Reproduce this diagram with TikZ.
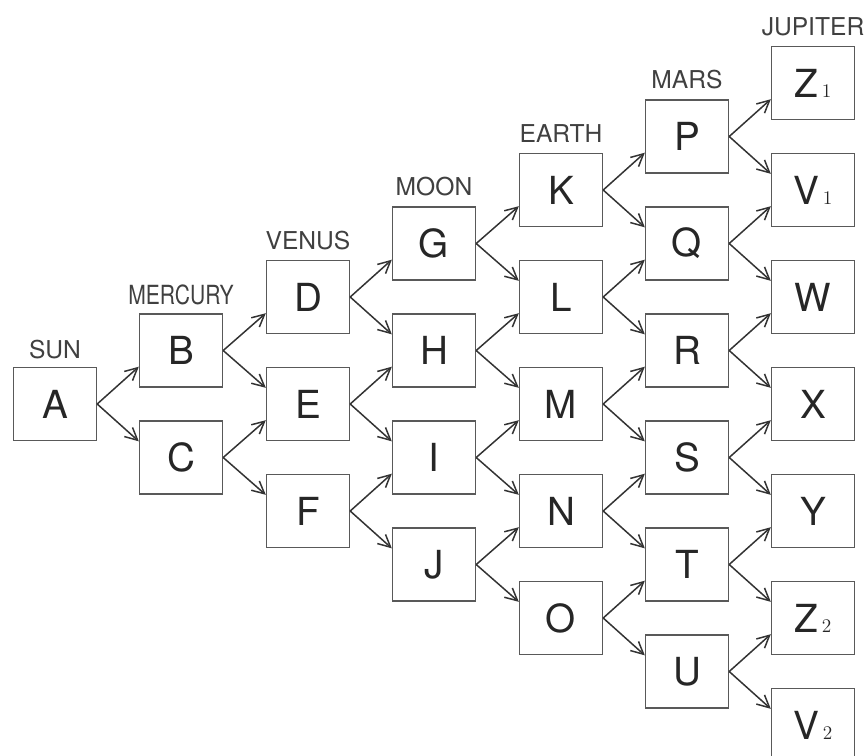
\documentclass[tikz,border=0pt]{standalone}
\usepackage{fontspec}
\setsansfont{TeX Gyre Heros}
\usepackage{graphicx}
\usepackage{tikz}
\usetikzlibrary{positioning, arrows.meta}

\begin{document}
\begin{tikzpicture}[
		x=0.02cm, y=-0.02cm,
		box/.style={draw=black!65, line width=0.8pt, rectangle, minimum width=1.66cm, minimum height=1.46cm, inner sep=0pt, text=black!85, font=\sffamily\fontsize{22}{22}\selectfont},
		planet/.style={inner sep=0pt, anchor=south, text=black!75, font=\sffamily\fontsize{14}{14}\selectfont},
		arrow/.style={-{Straight Barb[length=7pt, width=7pt]}, line width=0.85pt, draw=black!80}
		]
		\clip (0,0) rectangle (864,755);
		\fill[white] (0,0) rectangle (864,755);
		
		% Nivel 0 e 1
		\node[box] (A) at (55, 404)   {A};
		\node[box] (B) at (181, 350.5) {B};
		\node[box] (C) at (181, 457.5) {C};
		
		% Nivel 2
		\node[box] (D) at (308, 297) {D};
		\node[box] (E) at (308, 404) {E};
		\node[box] (F) at (308, 511) {F};
		
		% Nivel 3
		\node[box] (G) at (434, 243.5) {G};
		\node[box] (H) at (434, 350.5) {H};
		\node[box] (I) at (434, 457.5) {I};
		\node[box] (J) at (434, 564.5) {J};
		
		% Nivel 4
		\node[box] (K) at (561, 190) {K};
		\node[box] (L) at (561, 297) {L};
		\node[box] (M) at (561, 404) {M};
		\node[box] (N) at (561, 511) {N};
		\node[box] (O) at (561, 618) {O};
		
		% Nivel 5
		\node[box] (P) at (687, 136.5) {P};
		\node[box] (Q) at (687, 243.5) {Q};
		\node[box] (R) at (687, 350.5) {R};
		\node[box] (S) at (687, 457.5) {S};
		\node[box] (T) at (687, 564.5) {T};
		\node[box] (U) at (687, 671.5) {U};
		
		% Nivel 6
		\node[box] (Z1) at (813, 83)  {Z\hspace{2pt}{\rmfamily\fontsize{11}{11}\selectfont 1}};
		\node[box] (V1) at (813, 190) {V\hspace{2pt}{\rmfamily\fontsize{11}{11}\selectfont 1}};
		\node[box] (W)  at (813, 297) {W};
		\node[box] (X)  at (813, 404) {X};
		\node[box] (Y)  at (813, 511) {Y};
		\node[box] (Z2) at (813, 618) {Z\hspace{2pt}{\rmfamily\fontsize{11}{11}\selectfont 2}};
		\node[box] (V2) at (813, 725) {V\hspace{2pt}{\rmfamily\fontsize{11}{11}\selectfont 2}};
		
		% Nomes dos astros
		\node[planet, above=0.16cm of A.north, anchor=south] (sun) {SUN};
		\node[planet, above=0.16cm of B.north, anchor=south] (mercury) {\scalebox{0.8}[1]{\fontsize{15}{15}\selectfont MERCURY}};
		\node[planet, above=0.2cm of D.north, anchor=south] (venus) {VENUS};
		\node[planet, above=0.2cm of G.north, anchor=south] (moon) {MOON};
		\node[planet, above=0.2cm of K.north, anchor=south] (earth) {EARTH};
		\node[planet, above=0.2cm of P.north, anchor=south] (mars) {MARS};
		\node[planet, above=0.2cm of Z1.north, anchor=south] (jupiter) {JUPITER};
		
		% Setas
		\draw[arrow] (A.east) -- (B.201); \draw[arrow] (A.east) -- (C.159);
		
		\draw[arrow] (B.east) -- (D.201); \draw[arrow] (B.east) -- (E.159);
		\draw[arrow] (C.east) -- (E.201); \draw[arrow] (C.east) -- (F.159);
		
		\draw[arrow] (D.east) -- (G.201); \draw[arrow] (D.east) -- (H.159);
		\draw[arrow] (E.east) -- (H.201); \draw[arrow] (E.east) -- (I.159);
		\draw[arrow] (F.east) -- (I.201); \draw[arrow] (F.east) -- (J.159);
		
		\draw[arrow] (G.east) -- (K.201); \draw[arrow] (G.east) -- (L.159);
		\draw[arrow] (H.east) -- (L.201); \draw[arrow] (H.east) -- (M.159);
		\draw[arrow] (I.east) -- (M.201); \draw[arrow] (I.east) -- (N.159);
		\draw[arrow] (J.east) -- (N.201); \draw[arrow] (J.east) -- (O.159);
		
		\draw[arrow] (K.east) -- (P.201); \draw[arrow] (K.east) -- (Q.159);
		\draw[arrow] (L.east) -- (Q.201); \draw[arrow] (L.east) -- (R.159);
		\draw[arrow] (M.east) -- (R.201); \draw[arrow] (M.east) -- (S.159);
		\draw[arrow] (N.east) -- (S.201); \draw[arrow] (N.east) -- (T.159);
		\draw[arrow] (O.east) -- (T.201); \draw[arrow] (O.east) -- (U.159);
		
		\draw[arrow] (P.east) -- (Z1.201); \draw[arrow] (P.east) -- (V1.159);
		\draw[arrow] (Q.east) -- (V1.201); \draw[arrow] (Q.east) -- (W.159);
		\draw[arrow] (R.east) -- (W.201);  \draw[arrow] (R.east) -- (X.159);
		\draw[arrow] (S.east) -- (X.201);  \draw[arrow] (S.east) -- (Y.159);
		\draw[arrow] (T.east) -- (Y.201);  \draw[arrow] (T.east) -- (Z2.159);
		\draw[arrow] (U.east) -- (Z2.201); \draw[arrow] (U.east) -- (V2.159);
		
	\end{tikzpicture}
\end{document}
